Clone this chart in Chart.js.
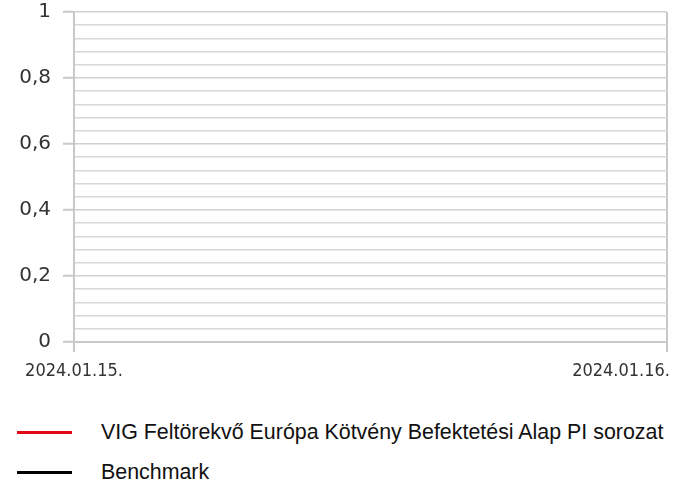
<!DOCTYPE html>
<html>
<head>
<meta charset="utf-8">
<script src="https://cdn.jsdelivr.net/npm/chart.js@4"></script>
<style>
    body { margin: 0; background: #fff; }
    .wrap { position: relative; width: 679px; height: 490px; overflow: hidden; }
    #chart { position: absolute; left: 0; top: -12px; }
    .legend-item { position: absolute; left: 0; height: 24px; width: 679px; }
    .legend-line { position: absolute; left: 17px; width: 55px; height: 3px; top: 11px; }
    .legend-text { position: absolute; left: 101px; top: 0; line-height: 24px;
        font-family: "Liberation Sans", Arial, sans-serif; font-size: 21.4px; color: #111; white-space: nowrap; }
</style>
</head>
<body>
<div class="wrap">
    <canvas id="chart" width="679" height="412"></canvas>
    <div id="legend"></div>
</div>
<script>
// --- DATA ---
const dates = ['2024.01.15.', '2024.01.16.'];
const fundValues = [null, null];
const benchmarkValues = [null, null];
const seriesNames = ['VIG Feltörekvő Európa Kötvény Befektetési Alap PI sorozat', 'Benchmark'];
const seriesColors = ['#e30613', '#000000'];
const yMin = 0;
const yMax = 1;
const yMinorStep = 0.04;
const yMajorStep = 0.2;

const isMajor = (v) => Math.abs(v / yMajorStep - Math.round(v / yMajorStep)) < 1e-6;

// x labels drawn by hand so the last one stays inside the canvas (like the original)
const xLabelPlugin = {
    id: 'xLabels',
    afterDraw(chart) {
        const sc = chart.scales.x;
        const ctx = chart.ctx;
        ctx.save();
        ctx.font = '18px "DejaVu Sans Condensed", "DejaVu Sans", sans-serif';
        ctx.fillStyle = '#333';
        ctx.textBaseline = 'middle';
        ctx.textAlign = 'center';
        dates.forEach((d, i) => {
            const w = ctx.measureText(d).width;
            let x = sc.getPixelForValue(i);
            x = Math.min(x, chart.width - 9 - w / 2);
            x = Math.max(x, w / 2 + 2);
            ctx.fillText(d, x, sc.top + 29);
        });
        ctx.restore();
    }
};

new Chart(document.getElementById('chart'), {
    type: 'line',
    data: {
        labels: dates,
        datasets: [
            { label: seriesNames[0], data: fundValues, borderColor: seriesColors[0], borderWidth: 3, pointRadius: 0 },
            { label: seriesNames[1], data: benchmarkValues, borderColor: seriesColors[1], borderWidth: 3, pointRadius: 0 }
        ]
    },
    options: {
        responsive: false,
        animation: false,
        layout: { padding: { top: 0, right: 12, left: 0, bottom: 0 } },
        plugins: {
            legend: { display: false },
            tooltip: { enabled: false }
        },
        scales: {
            x: {
                offset: false,
                afterFit: (scale) => { scale.height = 58; },
                grid: { color: '#c8c8c8', lineWidth: 2, tickLength: 10, tickColor: '#c8c8c8' },
                border: { color: '#c8c8c8', width: 2 },
                ticks: { display: false }
            },
            y: {
                min: yMin,
                max: yMax,
                afterFit: (scale) => { scale.width = 74; },
                grid: {
                    color: (c) => isMajor(c.tick.value) ? '#d0d0d0' : '#d8d8d8',
                    lineWidth: 1.5,
                    tickLength: 11,
                    tickColor: (c) => isMajor(c.tick.value) ? '#c8c8c8' : 'rgba(0,0,0,0)',
                    tickWidth: 2
                },
                border: { color: '#c8c8c8', width: 2 },
                ticks: {
                    stepSize: yMinorStep,
                    autoSkip: false,
                    padding: 12,
                    color: '#333',
                    font: { family: '"DejaVu Sans", Verdana, sans-serif', size: 20 },
                    callback: (v) => isMajor(v) ? String(Math.round(v * 10) / 10).replace('.', ',') : ''
                }
            }
        }
    },
    plugins: [xLabelPlugin]
});

// --- LEGEND ---
const legendTops = [420, 460];
const legendEl = document.getElementById('legend');
seriesNames.forEach((name, i) => {
    const item = document.createElement('div');
    item.className = 'legend-item';
    item.style.top = legendTops[i] + 'px';
    item.innerHTML = '<div class="legend-line" style="background:' + seriesColors[i] + '"></div>' +
        '<div class="legend-text"></div>';
    item.querySelector('.legend-text').textContent = name;
    legendEl.appendChild(item);
});
</script>
</body>
</html>
